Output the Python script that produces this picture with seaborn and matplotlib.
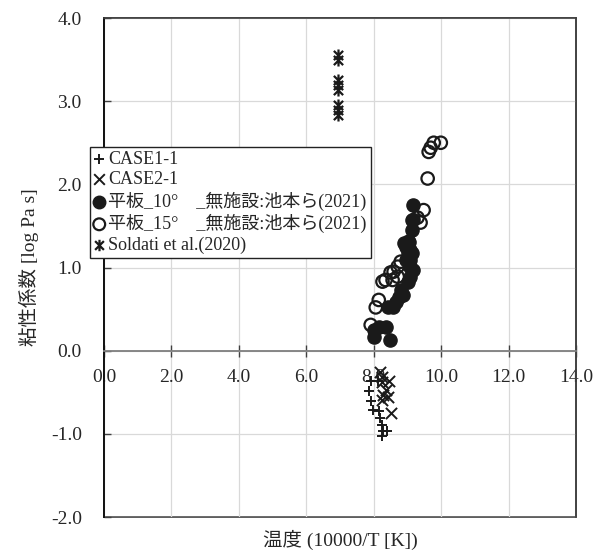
import numpy as np
import pandas as pd
import seaborn as sns
import matplotlib
matplotlib.use("Agg")
import matplotlib.pyplot as plt
from matplotlib.ticker import MultipleLocator, FormatStrFormatter
from matplotlib.path import Path

# ---------------- data ----------------
case1_x = [7.91, 8.12, 7.85, 7.91, 7.97, 8.15, 8.20, 8.26, 8.29, 8.26, 8.38]
case1_y = [-0.37, -0.37, -0.49, -0.61, -0.71, -0.73, -0.81, -0.89, -0.97, -1.03, -0.97]

case2_x = [8.20, 8.26, 8.44, 8.26, 8.35, 8.29, 8.41, 8.26, 8.50]
case2_y = [-0.26, -0.32, -0.37, -0.38, -0.47, -0.53, -0.56, -0.59, -0.75]

p10_x = [8.00, 8.15, 8.35, 8.00, 8.47, 8.41, 8.56, 8.65, 8.74, 8.86, 8.80, 9.01,
         9.09, 9.18, 9.09, 8.95, 9.09, 9.01, 9.09, 8.89, 9.04, 9.15, 9.18, 9.15,
         9.15, 8.95]
p10_y = [0.25, 0.29, 0.28, 0.16, 0.13, 0.52, 0.53, 0.58, 0.65, 0.67, 0.73, 0.82,
         0.89, 0.97, 1.01, 1.09, 1.09, 1.18, 1.21, 1.30, 1.31, 1.18, 1.75, 1.57,
         1.45, 1.25]

p15_x = [9.78, 9.69, 9.63, 9.99, 9.60, 9.48, 9.18, 9.30, 9.39, 9.04, 8.80, 8.71,
         8.59, 8.50, 8.35, 8.26, 8.15, 8.06, 7.91, 8.71, 8.56]
p15_y = [2.50, 2.44, 2.39, 2.50, 2.07, 1.69, 1.57, 1.60, 1.54, 1.31, 1.07, 1.01,
         0.95, 0.94, 0.85, 0.83, 0.61, 0.52, 0.31, 0.89, 0.85]

sold_x = [6.93, 6.93, 6.93, 6.93, 6.93, 6.93, 6.93, 6.93]
sold_y = [3.55, 3.49, 3.25, 3.19, 3.13, 2.95, 2.89, 2.83]

labels = ["CASE1-1", "CASE2-1", "平板_10°\u3000_無施設:池本ら(2021)",
          "平板_15°\u3000_無施設:池本ら(2021)", "Soldati et al.(2020)"]

xlabel = "温度 (10000/T [K])"
ylabel = "粘性係数 [log Pa s]"

# ---------------- style ----------------
sns.set_theme(style="white")
plt.rcParams["font.family"] = ["Liberation Serif", "Noto Sans CJK JP", "DejaVu Sans"]
plt.rcParams["axes.unicode_minus"] = False

# asterisk marker: an x plus a vertical bar (Excel style)
star_marker = Path(
    [(-1, -1), (1, 1), (-1, 1), (1, -1), (0, -1.3), (0, 1.3)],
    [Path.MOVETO, Path.LINETO, Path.MOVETO, Path.LINETO, Path.MOVETO, Path.LINETO],
)

fig = plt.figure(figsize=(6.02, 5.55), dpi=100)
ax = fig.add_axes([104 / 602, 1 - 517 / 555, 472 / 602, 499 / 555])

blk = "#1a1a1a"
sns.scatterplot(x=case1_x, y=case1_y, marker="+", s=60, color=blk,
                linewidth=1.4, label=labels[0], ax=ax, zorder=3)
sns.scatterplot(x=case2_x, y=case2_y, marker="x", s=65, color=blk,
                linewidth=1.4, label=labels[1], ax=ax, zorder=3)
sns.scatterplot(x=p10_x, y=p10_y, marker="o", s=90, color=blk,
                edgecolor=blk, linewidth=1.0, label=labels[2], ax=ax, zorder=3)
sns.scatterplot(x=p15_x, y=p15_y, marker="o", s=80, facecolor="none",
                edgecolor=blk, linewidth=1.6, label=labels[3], ax=ax, zorder=3)
sns.scatterplot(x=sold_x, y=sold_y, marker=star_marker, s=75, color=blk,
                edgecolor=blk, linewidth=1.6, label=labels[4], ax=ax, zorder=3)

ax.set_xlim(0, 14)
ax.set_ylim(-2, 4)
ax.xaxis.set_major_locator(MultipleLocator(2))
ax.yaxis.set_major_locator(MultipleLocator(1))
ax.xaxis.set_major_formatter(FormatStrFormatter("%.1f"))
ax.yaxis.set_major_formatter(FormatStrFormatter("%.1f"))

ax.grid(True, color="#d9d9d9", linewidth=0.9, zorder=0)
ax.set_axisbelow(True)

# frame
for side in ["top", "right"]:
    ax.spines[side].set_color("#404040")
    ax.spines[side].set_linewidth(1.2)
ax.spines["left"].set_color("#111111")
ax.spines["left"].set_linewidth(1.4)
ax.spines["bottom"].set_position(("data", 0))
ax.spines["bottom"].set_color("#7f7f7f")
ax.spines["bottom"].set_linewidth(1.3)
ax.patch.set_edgecolor("#404040")
ax.patch.set_linewidth(1.2)

ax.tick_params(axis="x", direction="inout", length=8, width=1.0, color="#404040",
               labelsize=14, pad=9, bottom=True)
ax.tick_params(axis="y", direction="in", length=5, width=1.0, color="#404040",
               labelsize=14, pad=16, left=True)

ax.set_xlabel(xlabel, fontsize=14)
ax.set_ylabel(ylabel, fontsize=14)
ax.xaxis.set_label_coords(0.5, -0.025)
ax.yaxis.set_label_coords(-0.138, 0.5)

leg = ax.legend(loc="upper left", bbox_to_anchor=(-0.03, 0.7415), borderaxespad=0,
                frameon=True, fancybox=False, edgecolor="#222222", fontsize=13,
                handlelength=0.6, handletextpad=0.2, labelspacing=0.18,
                borderpad=0.22, markerscale=0.95)
leg.get_frame().set_linewidth(1.0)
leg.get_frame().set_facecolor("white")
leg.get_frame().set_alpha(1)
leg.set_zorder(5)

fig.savefig("out.png", dpi=100)
